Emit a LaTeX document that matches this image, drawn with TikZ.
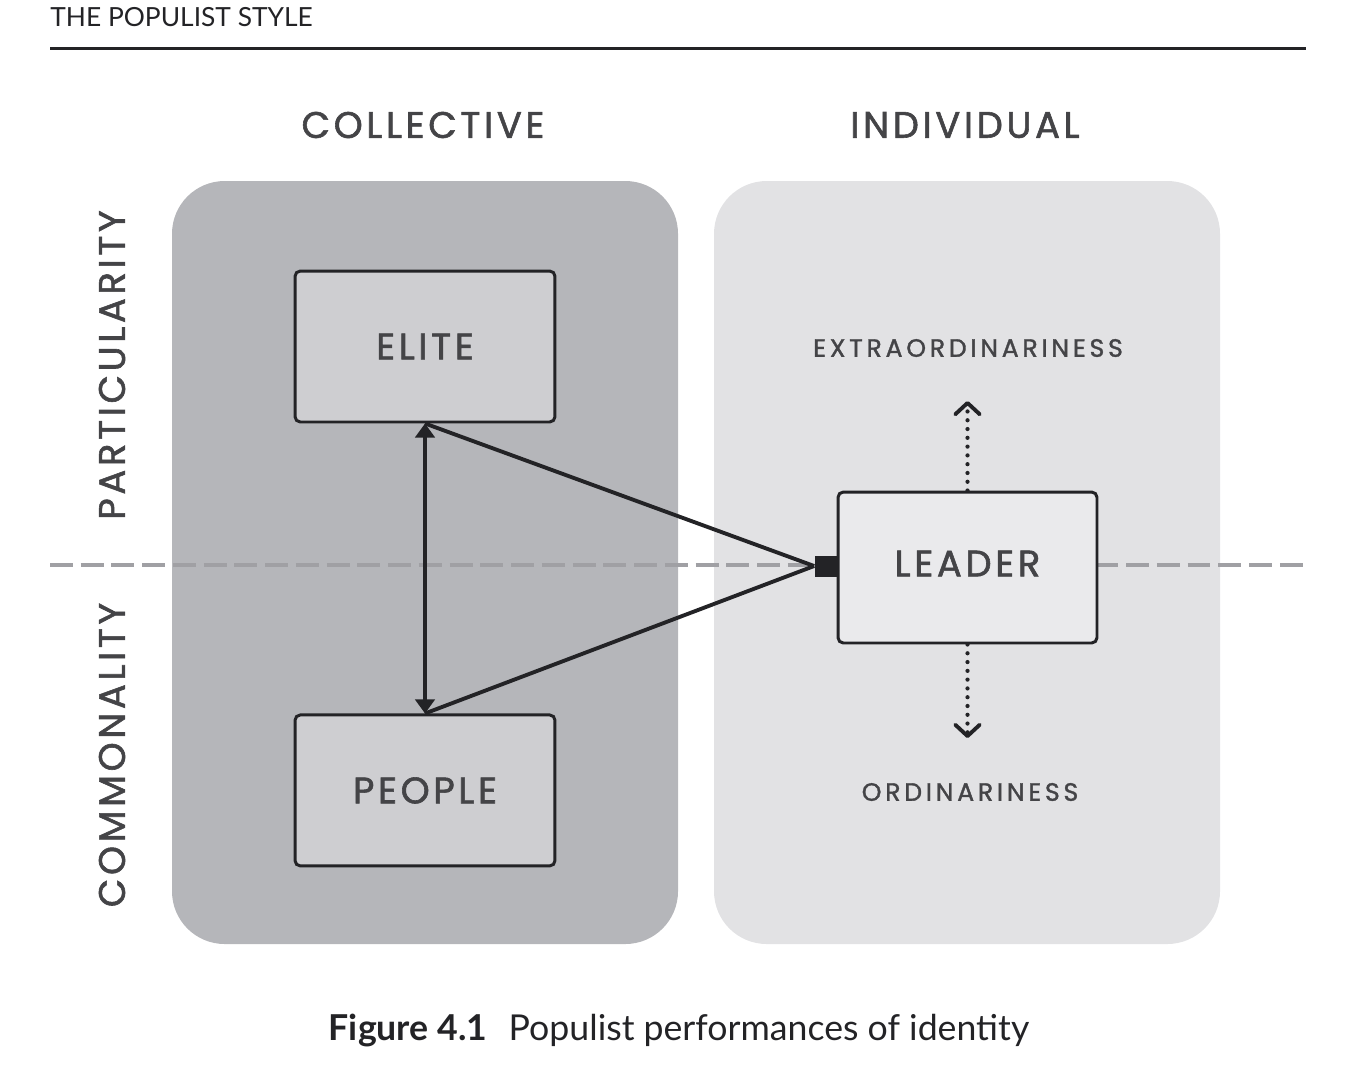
\documentclass[tikz,border=0pt]{standalone}
\usepackage{fontspec}
\setmainfont{Lato}
\newfontfamily\capsfont{Poppins}[LetterSpace=10,FakeBold=1.6]
\newfontfamily\polefont{Poppins}[LetterSpace=15,FakeBold=1.4]
\usetikzlibrary{arrows.meta,positioning}
\definecolor{darkpanel}{RGB}{181,182,186}
\definecolor{lightpanel}{RGB}{226,226,228}
\definecolor{darkbox}{RGB}{206,206,209}
\definecolor{lightbox}{RGB}{234,234,236}
\definecolor{splitline}{RGB}{160,160,164}
\definecolor{ink}{RGB}{35,35,38}

\begin{document}
\begin{tikzpicture}[x=0.02cm,y=-0.02cm,on grid,node distance=8.88cm,
    box/.style={draw=ink,line width=1.7pt,rounded corners=3pt,
        minimum width=5.2cm,minimum height=3.02cm,text=ink!85,
        font=\capsfont\fontsize{21}{24}\selectfont},
    head/.style={text=ink!85,font=\capsfont\fontsize{21}{24}\selectfont},
    pole/.style={text=ink!85,font=\polefont\fontsize{14.3}{17}\selectfont},
    link/.style={draw=ink,line width=2.2pt},
    drift/.style={draw=ink,line width=2.4pt,line cap=round,dash pattern=on 0pt off 5pt,
        -{Straight Barb[length=6.5pt,width=14pt,round,line width=2.2pt]}}]
    \useasboundingbox (0,0) rectangle (1354,1066);
    % running head
    \node[anchor=base west,inner sep=0,text=ink,font=\fontsize{15}{18}\selectfont] (runhead) at (50,26) {THE POPULIST STYLE};
    \coordinate (ruleL) at (50,48);
    \coordinate (ruleR) at (1306,48);
    \draw[ink,line width=1.7pt] (ruleL) -- (ruleR);
    % panels
    \fill[darkpanel,rounded corners=30pt] (172,181) rectangle (678,944);
    \fill[lightpanel,rounded corners=30pt] (714,181) rectangle (1220,944);
    \node[head] (coll) at (423,125) {COLLECTIVE};
    \node[head] (indiv) at (965,125) {INDIVIDUAL};
    \node[head,rotate=90] (part) at (112,365) {PARTICULARITY};
    \node[head,rotate=90] (comm) at (112,755) {COMMONALITY};
    % dividing line
    \coordinate (splitL) at (50,565);
    \coordinate (splitR) at (1306,565);
    \draw[splitline,line width=2.4pt,dash pattern=on 13pt off 4.5pt] (splitL) -- (splitR);
    % boxes
    \node[box,fill=darkbox] (elite) at (425,346.5) {ELITE};
    \node[box,fill=darkbox,below=of elite] (people) {PEOPLE};
    \node[box,fill=lightbox,minimum width=5.18cm,text depth=0.16cm] (leader) at (967.5,567.5) {LEADER};
    \node[fill=ink,inner sep=0,minimum width=0.46cm,minimum height=0.42cm] (join) at (826,566) {};
    \draw[link] (elite.south) -- (join.west);
    \draw[link] (people.north) -- (join.west);
    \draw[link,{Triangle[length=8pt,width=11pt]}-{Triangle[length=8pt,width=11pt]}] (elite.south) -- (people.north);
    % leader poles
    \node[pole] (extra) at (968,348) {EXTRAORDINARINESS};
    \node[pole] (ordin) at (970,792) {ORDINARINESS};
    \coordinate (upend) at (967.5,401);
    \coordinate (downend) at (967.5,738);
    \draw[drift] (leader.north) -- (upend);
    \draw[drift] (leader.south) -- (downend);
    % caption
    \node[anchor=base,inner sep=0,text=ink,font=\fontsize{20.3}{24}\selectfont] (caption) at (679,1040)
        {\textbf{Figure 4.1}\hspace{0.6em}Populist performances of identity};
\end{tikzpicture}
\end{document}
